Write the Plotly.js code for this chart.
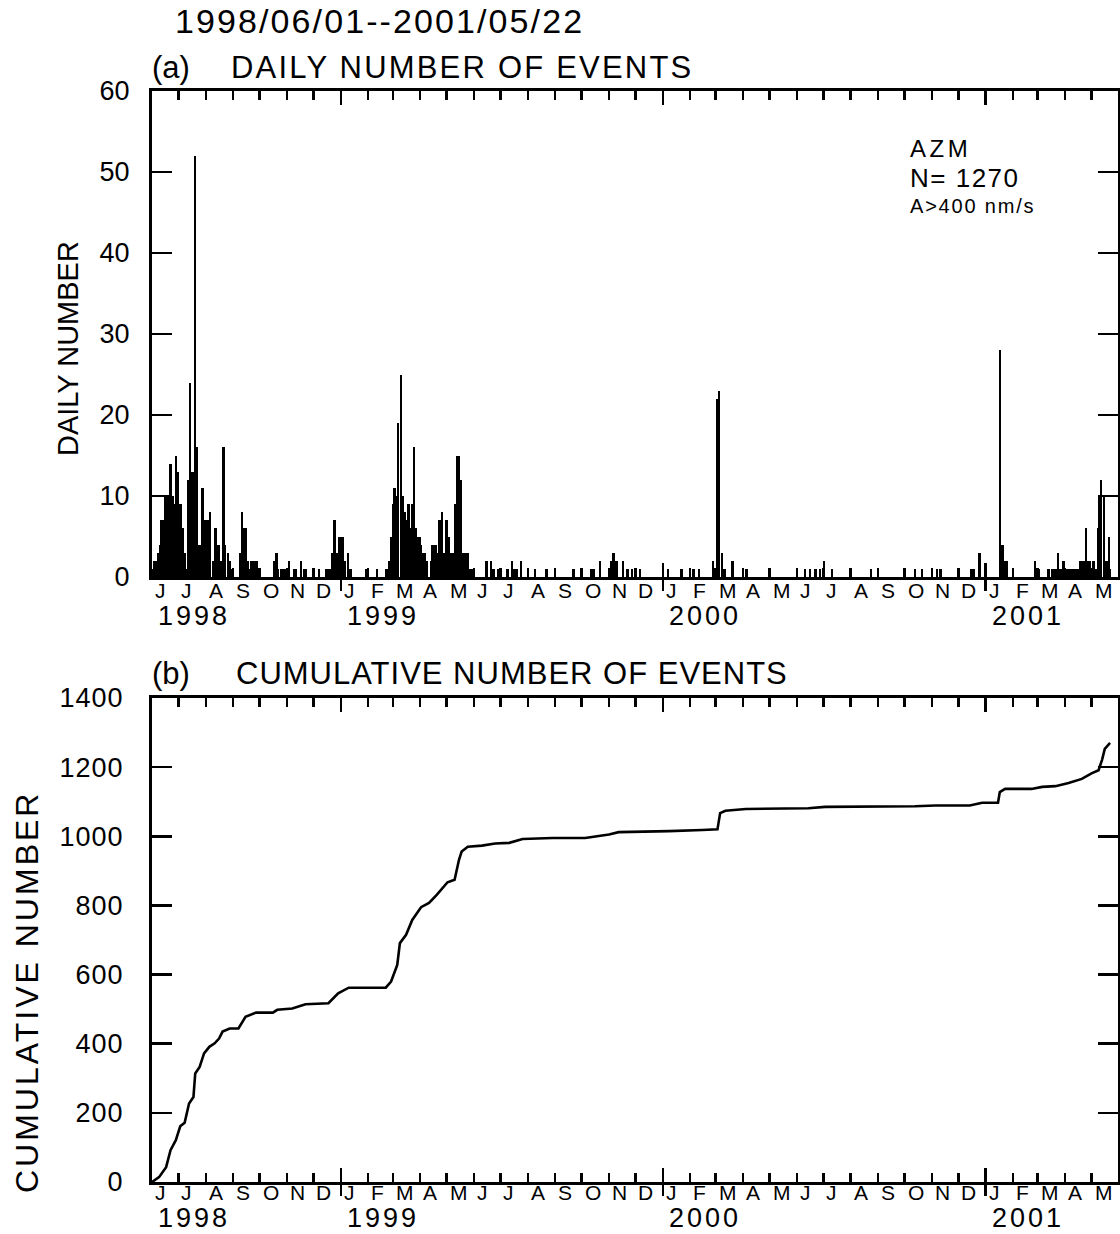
<!DOCTYPE html>
<html>
<head>
<meta charset="utf-8">
<script src="https://cdn.plot.ly/plotly-3.0.1.min.js"></script>
<style>html,body{margin:0;padding:0;background:#fff}</style>
</head>
<body>
<div id="chart" style="width:1120px;height:1234px"></div>
<script>
// ---------------- DATA ----------------
const START = '1998-06-01';           // day 0
const RANGE_END = '2001-05-31';
const TITLE = '1998/06/01--2001/05/22';

// Daily number of events (day offset from START, count) - nonzero days only
const dailyDay = [
  1,3,5,7,9,11,13,15,17,19,21,23,25,27,29,31,33,35,37,39,41,43,45,47,49,51,53,55,57,59,61,63,65,66,69,72,74,76,78,81,83,86,88,90,
  100,102,104,106,108,110,113,115,117,119,121,
  139,141,143,146,149,151,155,161,163,169,172,174,189,197,200,202,204,207,209,212,214,216,218,222,225,
  243,255,266,269,271,273,275,277,279,282,284,287,289,291,293,295,297,299,301,303,305,307,309,312,316,318,320,322,324,326,329,331,334,336,338,340,342,344,346,348,350,352,354,356,358,360,362,
  379,384,387,393,403,408,411,413,418,434,447,478,498,501,508,520,523,525,527,534,539,544,553,585,600,614,620,636,641,643,646,649,658,674,
  740,746,752,757,762,771,815,865,873,890,894,929,932,938,961,964,967,969,
  1001,1005,1016,1020,1022,1024,1027,1030,1033,1036,1038,1040,1042,1044,1046,1048,1050,1052,1054,1056,1059,1061,1063,1067,1069,1071,1073,1074,1076,1079,1081,1083,1085,1086
];
const dailyCount = [
  1,2,2,3,4,7,7,10,10,10,14,10,9,15,13,9,9,6,3,1,12,24,13,13,52,16,4,4,11,7,7,7,6,8,2,6,4,4,2,16,4,3,2,1,
  3,8,6,6,2,1,2,2,2,2,1,
  2,3,1,1,1,1,2,1,1,2,1,1,1,1,1,1,3,7,3,5,5,5,2,3,1,
  1,1,1,2,5,9,11,10,19,25,10,8,7,9,6,9,16,6,5,5,4,3,3,2,2,4,4,4,3,7,8,3,7,5,3,3,3,9,15,15,12,3,3,3,3,1,1,
  2,2,1,1,1,2,1,1,2,1,1,1,1,1,2,2,3,2,2,2,1,1,1,1,1,1,1,2,22,23,3,1,2,1,
  1,1,1,1,2,1,1,1,1,1,1,1,1,3,28,4,2,2,
  2,1,1,1,1,1,3,1,2,1,1,1,1,1,1,1,1,2,2,2,6,2,2,2,1,1,6,10,12,10,2,2,5,1
];

// Cumulative number of events (day offset from START, cumulative count)
const cumDay = [0,8,16,21,27,32,37,42,47,49,54,59,65,71,76,80,88,98,106,118,
  137,142,159,174,200,211,223,265,271,278,281,288,295,305,314,323,335,343,348,351,
  358,374,389,405,420,454,491,503,518,529,556,586,624,641,644,650,673,722,744,763,
  816,865,888,927,941,959,961,967,997,1009,1024,1039,1054,1065,1073,1077,1080,1086];
const cumCount = [0,14,43,92,121,161,171,227,246,314,333,372,391,401,415,435,444,444,478,490,
  490,498,502,514,517,546,562,562,580,628,691,715,758,795,807,831,867,874,932,956,
  970,973,979,981,992,995,995,1000,1005,1012,1013,1015,1018,1020,1067,1074,1079,1079,1081,1085,
  1085,1087,1089,1089,1097,1097,1128,1137,1137,1143,1145,1154,1166,1182,1191,1222,1253,1270];

// Tick labels
const monthLetters = ['J','J','A','S','O','N','D','J','F','M','A','M',
                      'J','J','A','S','O','N','D','J','F','M','A','M',
                      'J','J','A','S','O','N','D','J','F','M','A','M'];
const yearLabels = ['1998','1999','2000','2001'];
const yearLabelDates = ['1998-06-01','1999-01-01','2000-01-01','2001-01-01'];
const yearTicks = ['1999-01-01','2000-01-01','2001-01-01'];
const dailyTicks = [0,10,20,30,40,50,60];
const cumTicks = [0,200,400,600,800,1000,1200,1400];

// ---------------- HELPERS ----------------
const DAY_MS = 86400000;
const START_MS = Date.parse(START + 'T00:00:00Z');
const toDate = d => new Date(START_MS + d * DAY_MS).toISOString().slice(0, 10);
const monthStarts = monthLetters.map((_, i) => new Date(Date.UTC(1998, 5 + i, 1)).toISOString().slice(0, 10));
const monthTicks = monthStarts.filter(m => m !== START);

const W = 1120, H = 1234;
const M = {l: 152, r: 2, t: 91, b: 52};
const plotH = H - M.t - M.b, plotW = W - M.l - M.r;
const py = p => (H - M.b - p) / plotH;
const px = p => (p - M.l) / plotW;

const FONT = 'Liberation Sans, Arial, Helvetica, sans-serif';
const css = ['.gtitle{letter-spacing:2.1px}', '.y2tick text{letter-spacing:1px}'];

// ---------------- TRACES ----------------
const ghost = (xa, ya) => ({type: 'scatter', mode: 'markers', x: [START], y: [0],
  marker: {opacity: 0, size: 1}, xaxis: xa, yaxis: ya, hoverinfo: 'skip'});
const traces = [
  {
    type: 'bar',
    x: dailyDay.map(toDate),
    y: dailyCount,
    width: dailyDay.map(() => 2.8 * DAY_MS),
    marker: {color: 'black', line: {width: 0}},
    xaxis: 'x', yaxis: 'y',
    hoverinfo: 'skip'
  },
  {
    type: 'scatter', mode: 'lines',
    x: cumDay.map(toDate),
    y: cumCount,
    line: {color: 'black', width: 2.6},
    xaxis: 'x2', yaxis: 'y2',
    hoverinfo: 'skip'
  },
  ghost('x3', 'y'), ghost('x4', 'y2'), ghost('x5', 'y'), ghost('x6', 'y2')
];

// ---------------- AXES ----------------
function xBase(anchor) {
  return {type: 'date', range: [START, RANGE_END], anchor: anchor,
          showgrid: false, zeroline: false, showticklabels: false,
          tickmode: 'array', tickcolor: 'black', tickwidth: 2.5};
}
function monthAxis(anchor) {
  return Object.assign(xBase(anchor), {tickvals: monthTicks, ticks: 'inside', ticklen: 9,
    showline: true, linewidth: 3, linecolor: 'black', mirror: 'ticks', domain: [0, 1]});
}
function yearInAxis(anchor, over) {
  return Object.assign(xBase(anchor), {overlaying: over, tickvals: yearTicks, ticks: 'inside',
    ticklen: 14, mirror: 'ticks', showline: false});
}
function yearOutAxis(anchor, over) {
  return Object.assign(xBase(anchor), {overlaying: over, tickvals: yearTicks, ticks: 'outside',
    ticklen: 13, showline: false});
}
function yAxis(domain, anchor, range, vals, standoff) {
  return {domain: domain, anchor: anchor, range: range, tickmode: 'array', tickvals: vals,
    ticks: 'inside', ticklen: 20, tickwidth: 2.5, tickcolor: 'black',
    showline: true, linewidth: 3, linecolor: 'black', mirror: 'ticks',
    showgrid: false, zeroline: false, tickfont: {size: 27, color: 'black'},
    ticklabelstandoff: standoff};
}

// ---------------- ANNOTATIONS ----------------
const ann = [];
function spaced(ls) { css.push('g.annotation[data-index="' + ann.length + '"] text{letter-spacing:' + ls + 'px}'); }
function axisLabels(xref, yref, monthY, yearY) {
  monthStarts.forEach((d, i) => ann.push({
    x: d, xref: xref, y: 0, yref: yref, yshift: monthY, xshift: 1,
    xanchor: 'left', yanchor: 'middle', align: 'left', showarrow: false,
    text: monthLetters[i], font: {size: 21}
  }));
  yearLabels.forEach((t, i) => {
    spaced(3);
    ann.push({
      x: yearLabelDates[i], xref: xref, y: 0, yref: yref, yshift: yearY, xshift: 4,
      xanchor: 'left', yanchor: 'middle', align: 'left', showarrow: false,
      text: t, font: {size: 27}
    });
  });
}
axisLabels('x', 'y', -13, -39);
axisLabels('x2', 'y2', -10, -36);

function txt(text, x, y, size, ls, extra) {
  if (ls) spaced(ls);
  ann.push(Object.assign({text: text, x: px(x), y: py(y), xref: 'paper', yref: 'paper',
    xanchor: 'left', yanchor: 'middle', align: 'left', showarrow: false, font: {size: size}}, extra || {}));
}
txt('(a)', 150, 68, 31, 0);
txt('DAILY NUMBER OF EVENTS', 229, 68, 31, 2.2);
txt('(b)', 150, 673, 31, 0);
txt('CUMULATIVE NUMBER OF EVENTS', 234, 673, 31, 1.0);
txt('AZM', 908, 148, 24, 3.5);
txt('N= 1270', 908, 178, 26, 1.5);
txt('A&gt;400 nm/s', 908, 206, 20, 1.8);
txt('DAILY NUMBER', 68, 349, 29, 0, {textangle: -90, xanchor: 'center'});
txt('CUMULATIVE NUMBER', 27, 1018, 32, 3, {textangle: -90, xanchor: 'center'});

// ---------------- STYLE ----------------
const st = document.createElement('style');
st.textContent = css.join('\n');
document.head.appendChild(st);

// ---------------- LAYOUT ----------------
const layout = {
  width: W, height: H,
  margin: M,
  paper_bgcolor: 'white', plot_bgcolor: 'white',
  font: {family: FONT, color: 'black', size: 27},
  showlegend: false,
  bargap: 0,
  title: {text: TITLE, x: 175 / W, xanchor: 'left', y: 1 - 21 / H, yanchor: 'middle',
          font: {size: 34, family: FONT, color: 'black'}},
  xaxis: monthAxis('y'),
  xaxis2: monthAxis('y2'),
  xaxis3: yearInAxis('y', 'x'),
  xaxis4: yearInAxis('y2', 'x2'),
  xaxis5: yearOutAxis('y', 'x'),
  xaxis6: yearOutAxis('y2', 'x2'),
  yaxis: yAxis([py(577), 1], 'x', [0, 60], dailyTicks, 14),
  yaxis2: yAxis([0, py(698)], 'x2', [0, 1400], cumTicks, 20),
  annotations: ann
};

Plotly.newPlot('chart', traces, layout, {staticPlot: true, displayModeBar: false});
</script>
</body>
</html>
